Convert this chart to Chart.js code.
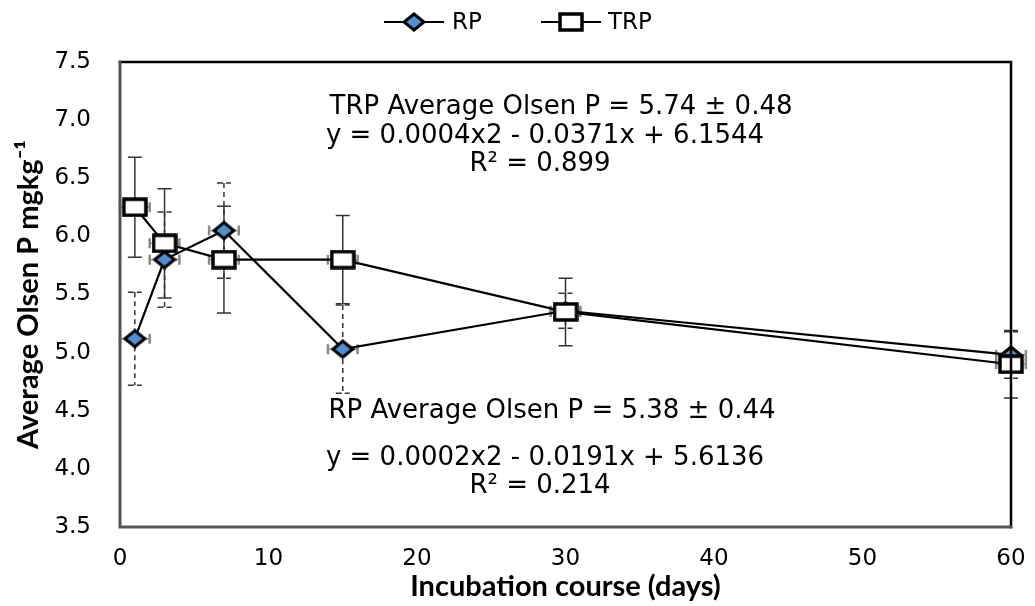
<!DOCTYPE html>
<html>
<head>
<meta charset="utf-8">
<script src="https://cdn.jsdelivr.net/npm/chart.js@4"></script>
<style>
html,body{margin:0;padding:0;background:#fff;}
#wrap{width:1035px;height:606px;}
</style>
</head>
<body>
<div id="wrap"><canvas id="c" width="1035" height="606"></canvas></div>
<script>
// ---- data ----
const days = [1, 3, 7, 15, 30, 60];
const rpValues = [5.12, 5.80, 6.05, 5.03, 5.36, 4.98];
const trpValues = [6.25, 5.94, 5.80, 5.80, 5.35, 4.90];
const rpErrors = [0.40, 0.41, 0.41, 0.38, 0.15, 0.20];
const trpErrors = [0.43, 0.47, 0.46, 0.38, 0.29, 0.29];
const dayErrors = [1, 1, 1, 1, 1, 1];
const seriesNames = ['RP', 'TRP'];
const xTicks = [0, 10, 20, 30, 40, 50, 60];
const yTicks = [3.5, 4.0, 4.5, 5.0, 5.5, 6.0, 6.5, 7.0, 7.5];
const trpNotes = ['TRP Average Olsen P = 5.74 \u00B1 0.48', 'y = 0.0004x2 - 0.0371x + 6.1544', 'R\u00B2 = 0.899'];
const rpNotes = ['RP Average Olsen P = 5.38 \u00B1 0.44', 'y = 0.0002x2 - 0.0191x + 5.6136', 'R\u00B2 = 0.214'];
const xTitle = 'Incubation course (days)';
const yTitle = 'Average Olsen P mgkg\u207B\u00B9';

// ---- marker images ----
function makeMarker(kind) {
  const w = kind === 'diamond' ? 24 : 26, h = 20;
  const cv = document.createElement('canvas');
  cv.width = w; cv.height = h;
  const g = cv.getContext('2d');
  g.lineWidth = 3; g.strokeStyle = '#000';
  g.lineJoin = 'miter';
  if (kind === 'diamond') {
    g.beginPath();
    g.moveTo(w / 2, 2); g.lineTo(w - 2, h / 2); g.lineTo(w / 2, h - 2); g.lineTo(2, h / 2); g.closePath();
    g.fillStyle = '#4f8fd3'; g.fill(); g.stroke();
  } else {
    g.fillStyle = '#fff';
    g.fillRect(2, 2, w - 4, h - 4);
    g.lineWidth = 3.5;
    g.strokeRect(2, 2, w - 4, h - 4);
  }
  return cv;
}
const diamond = makeMarker('diamond');
const square = makeMarker('square');

const UI_FONT = 'DejaVu Sans, Verdana, sans-serif';

// ---- plugin: error bars, frame, legend, notes ----
const extras = {
  id: 'extras',
  beforeDatasetsDraw(chart) {
    const ctx = chart.ctx, xs = chart.scales.x, ys = chart.scales.y;
    const series = [
      {vals: rpValues, errs: rpErrors, dashed: true},
      {vals: trpValues, errs: trpErrors, dashed: false}
    ];
    ctx.save();
    series.forEach(s => {
      s.vals.forEach((v, i) => {
        const px = xs.getPixelForValue(days[i]);
        const py = ys.getPixelForValue(v);
        const top = ys.getPixelForValue(v + s.errs[i]);
        const bot = ys.getPixelForValue(v - s.errs[i]);
        ctx.strokeStyle = '#333';
        ctx.lineWidth = 1.5;
        ctx.setLineDash(s.dashed ? [5, 4] : []);
        ctx.beginPath(); ctx.moveTo(px, top); ctx.lineTo(px, bot); ctx.stroke();
        ctx.setLineDash(s.dashed ? [6, 3] : []);
        ctx.beginPath();
        ctx.moveTo(px - 7, top); ctx.lineTo(px + 7, top);
        ctx.moveTo(px - 7, bot); ctx.lineTo(px + 7, bot);
        ctx.stroke();
        ctx.setLineDash([]);
        // horizontal (day) error bars
        const xl = xs.getPixelForValue(days[i] - dayErrors[i]);
        const xr = xs.getPixelForValue(days[i] + dayErrors[i]);
        ctx.strokeStyle = '#8a8a8a';
        ctx.lineWidth = 1.5;
        ctx.beginPath(); ctx.moveTo(xl, py); ctx.lineTo(xr, py); ctx.stroke();
        ctx.lineWidth = 2.5;
        ctx.beginPath();
        ctx.moveTo(xl, py - 5); ctx.lineTo(xl, py + 5);
        ctx.moveTo(xr, py - 5); ctx.lineTo(xr, py + 5);
        ctx.stroke();
      });
    });
    ctx.restore();
  },
  afterDraw(chart) {
    const ctx = chart.ctx, a = chart.chartArea;
    ctx.save();
    // frame
    ctx.lineCap = 'square';
    ctx.strokeStyle = '#000'; ctx.lineWidth = 2.5;
    ctx.beginPath(); ctx.moveTo(a.left, a.top); ctx.lineTo(a.right, a.top); ctx.lineTo(a.right, a.bottom); ctx.stroke();
    ctx.strokeStyle = '#555'; ctx.lineWidth = 3;
    ctx.beginPath(); ctx.moveTo(a.right, a.bottom); ctx.lineTo(a.left, a.bottom); ctx.lineTo(a.left, a.top); ctx.stroke();
    // legend
    const ly = 22;
    const items = [
      {name: seriesNames[0], img: diamond, x0: 385, x1: 443, tx: 452},
      {name: seriesNames[1], img: square, x0: 542, x1: 600, tx: 608}
    ];
    ctx.font = '23px ' + UI_FONT;
    ctx.fillStyle = '#000';
    ctx.textBaseline = 'middle';
    ctx.textAlign = 'left';
    items.forEach(it => {
      ctx.strokeStyle = '#000'; ctx.lineWidth = 2;
      ctx.beginPath(); ctx.moveTo(it.x0, ly); ctx.lineTo(it.x1, ly); ctx.stroke();
      const cx = (it.x0 + it.x1) / 2;
      ctx.drawImage(it.img, cx - it.img.width / 2, ly - it.img.height / 2);
      ctx.fillText(it.name, it.tx, ly + 1);
    });
    // notes
    ctx.font = '26px ' + UI_FONT;
    ctx.textAlign = 'center';
    const trpPos = [[561, 107], [545, 136], [540, 164]];
    const rpPos = [[552, 411], [545, 458], [540, 486]];
    trpNotes.forEach((t, i) => ctx.fillText(t, trpPos[i][0], trpPos[i][1]));
    rpNotes.forEach((t, i) => ctx.fillText(t, rpPos[i][0], rpPos[i][1]));
    ctx.restore();
  }
};

const ctx = document.getElementById('c').getContext('2d');
new Chart(ctx, {
  type: 'line',
  data: {
    datasets: [
      {
        label: seriesNames[0],
        data: days.map((d, i) => ({x: d, y: rpValues[i]})),
        borderColor: '#000', borderWidth: 2.2,
        pointStyle: diamond, pointRadius: 10, pointHoverRadius: 10,
        tension: 0, fill: false, clip: false, order: 1
      },
      {
        label: seriesNames[1],
        data: days.map((d, i) => ({x: d, y: trpValues[i]})),
        borderColor: '#000', borderWidth: 2.2,
        pointStyle: square, pointRadius: 10, pointHoverRadius: 10,
        tension: 0, fill: false, clip: false, order: 0
      }
    ]
  },
  options: {
    responsive: false,
    animation: false,
    events: [],
    layout: {padding: {top: 62, right: 24, left: 0, bottom: 0}},
    plugins: {legend: {display: false}, tooltip: {enabled: false}, title: {display: false}},
    scales: {
      x: {
        type: 'linear', min: 0, max: 60,
        afterFit(s) { s.height = 79; s.paddingLeft = 0; s.paddingRight = 0; },
        afterBuildTicks(s) { s.ticks = xTicks.map(v => ({value: v})); },
        grid: {display: false, drawTicks: false},
        border: {display: false},
        ticks: {padding: 18, color: '#000', font: {family: UI_FONT, size: 23}, callback: v => String(v), maxRotation: 0},
        title: {display: true, text: xTitle, color: '#000', font: {family: 'Lato', size: 29, weight: 'bold'}, padding: {top: 0, bottom: 2}}
      },
      y: {
        type: 'linear', min: 3.5, max: 7.5,
        afterFit(s) { s.width = 120; s.paddingTop = 0; s.paddingBottom = 0; },
        afterBuildTicks(s) { s.ticks = yTicks.map(v => ({value: v})); },
        grid: {display: false, drawTicks: false},
        border: {display: false},
        ticks: {padding: 29, color: '#000', font: {family: UI_FONT, size: 23}, callback: v => Number(v).toFixed(1)},
        title: {display: true, text: yTitle, color: '#000', font: {family: 'Lato', size: 29, weight: 'bold'}, padding: {top: 11, bottom: 0}}
      }
    }
  },
  plugins: [extras]
});
</script>
</body>
</html>
